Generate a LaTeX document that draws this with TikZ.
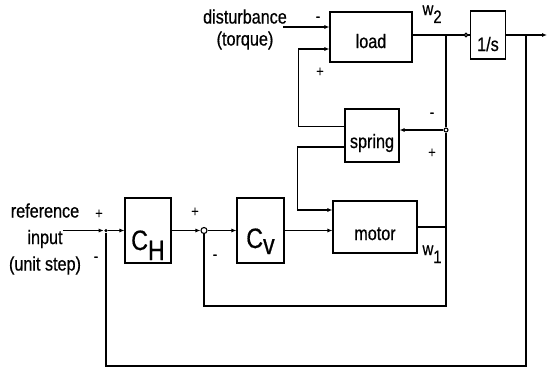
\documentclass[tikz,border=0pt]{standalone}
\usepackage{fontspec}
\setmainfont[FakeStretch=0.83,FakeBold=0.6]{Liberation Sans}
\usetikzlibrary{arrows.meta}
\newcommand{\lowr}[2][9pt]{\raisebox{-#1}{#2}}

\begin{document}
\begin{tikzpicture}[x=1pt,y=-1pt,line width=1.1pt,
  block/.style={draw,inner sep=0pt,text depth=0pt,font=\fontsize{19.5}{22}\selectfont},
  txt/.style={inner sep=0pt,font=\fontsize{19.5}{22}\selectfont},
  sgn/.style={inner sep=0pt,font=\fontsize{15}{15}\selectfont},
  arr/.style={-{Latex[length=5pt,width=4pt]}}]
\useasboundingbox (0,0) rectangle (549,372);
% 方框
\node[block,minimum width=82pt,minimum height=50pt,text height=22pt] (load) at (371,37) {load};
\node[block,minimum width=35pt,minimum height=48pt,text height=32pt] (integ) at (488,35) {1/s};
\node[block,minimum width=54pt,minimum height=53pt,text height=25pt] (spring) at (372,135.5) {spring};
\node[block,minimum width=84pt,minimum height=52pt,text height=26pt] (motor) at (375,227) {motor};
\node[block,minimum width=46pt,minimum height=65pt,text height=39pt,
  font=\fontsize{28}{28}\selectfont] (ch) at (148,230.5) {C\lowr[10pt]{H}};
\node[block,minimum width=47pt,minimum height=65pt,text height=35pt,
  font=\fontsize{28}{28}\selectfont] (cv) at (260.5,230.5) {C\lowr[6pt]{v}};
% 求和点与分支点
\node[circle,fill,inner sep=0pt,minimum size=3.5pt] (sum1) at (106,230.5) {};
\node[circle,draw,fill=white,inner sep=0pt,minimum size=6pt] (sum2) at (204,230.5) {};
\node[circle,draw,fill=white,inner sep=0pt,minimum size=4pt] (jsp) at (446,130) {};
\node[circle,draw,inner sep=0pt,minimum size=3.5pt] (jin) at (466,35) {};
\coordinate (jw2) at (446,35);
\coordinate (jout) at (526,35);
\coordinate (yend) at (547,35);
\coordinate (fbo) at (526,366);
\coordinate (fbi) at (446,306);
\coordinate (dist) at (283,27);
\coordinate (refin) at (63,230.5);
% 文字
\node[txt,align=center] (distlbl) at (245,29.5) {disturbance\\(torque)};
\node[txt,align=center,font=\fontsize{19.5}{26.5}\selectfont] (reflbl) at (45,239) {reference\\input\\(unit step)};
\node[txt,anchor=base west,font=\fontsize{18}{18}\selectfont] (w2) at (422,15) {w\lowr[8pt]{2}};
\node[txt,anchor=base west,font=\fontsize{18}{18}\selectfont] (w1) at (422,255) {w\lowr[8pt]{1}};
% 符号
\node[sgn] at (318,19) {-};
\node[sgn] at (320,72) {+};
\node[sgn] at (432,115) {-};
\node[sgn] at (432,153) {+};
\node[sgn] at (99,214) {+};
\node[sgn] at (96,259) {-};
\node[sgn] at (195,212) {+};
\node[sgn] at (215,257) {-};
% 前向通路
\draw[arr] (refin) -- (sum1);
\draw[arr] (sum1) -- (ch);
\draw[arr] (ch) -- (sum2);
\draw[arr] (sum2) -- (cv);
\draw[arr] (cv.east) -- (cv.east -| motor.west);
\draw[arr] (dist) -- (dist -| load.west);
\draw ([yshift=2pt]load.east) -- (jw2) -- (jin) -- (integ.west);
\draw[arr] (integ.east) -- (yend);
% 弹簧回路
\draw[arr] ([yshift=9pt]spring.west) -| ([xshift=-31pt,yshift=-12pt]load.west)
  -- ([yshift=-12pt]load.west);
\draw[arr] ([yshift=-11.5pt]spring.west) -| ([xshift=-35pt,yshift=17pt]motor.west)
  -- ([yshift=17pt]motor.west);
\draw (jw2) -- (jsp);
\draw[arr] (jsp) -- (jsp -| spring.east);
\draw (motor.east) -| (jsp);
% 反馈
\draw (motor.east -| jsp) -- (fbi) -| (sum2);
\draw (jout) -- (fbo) -| (sum1);
\end{tikzpicture}
\end{document}
